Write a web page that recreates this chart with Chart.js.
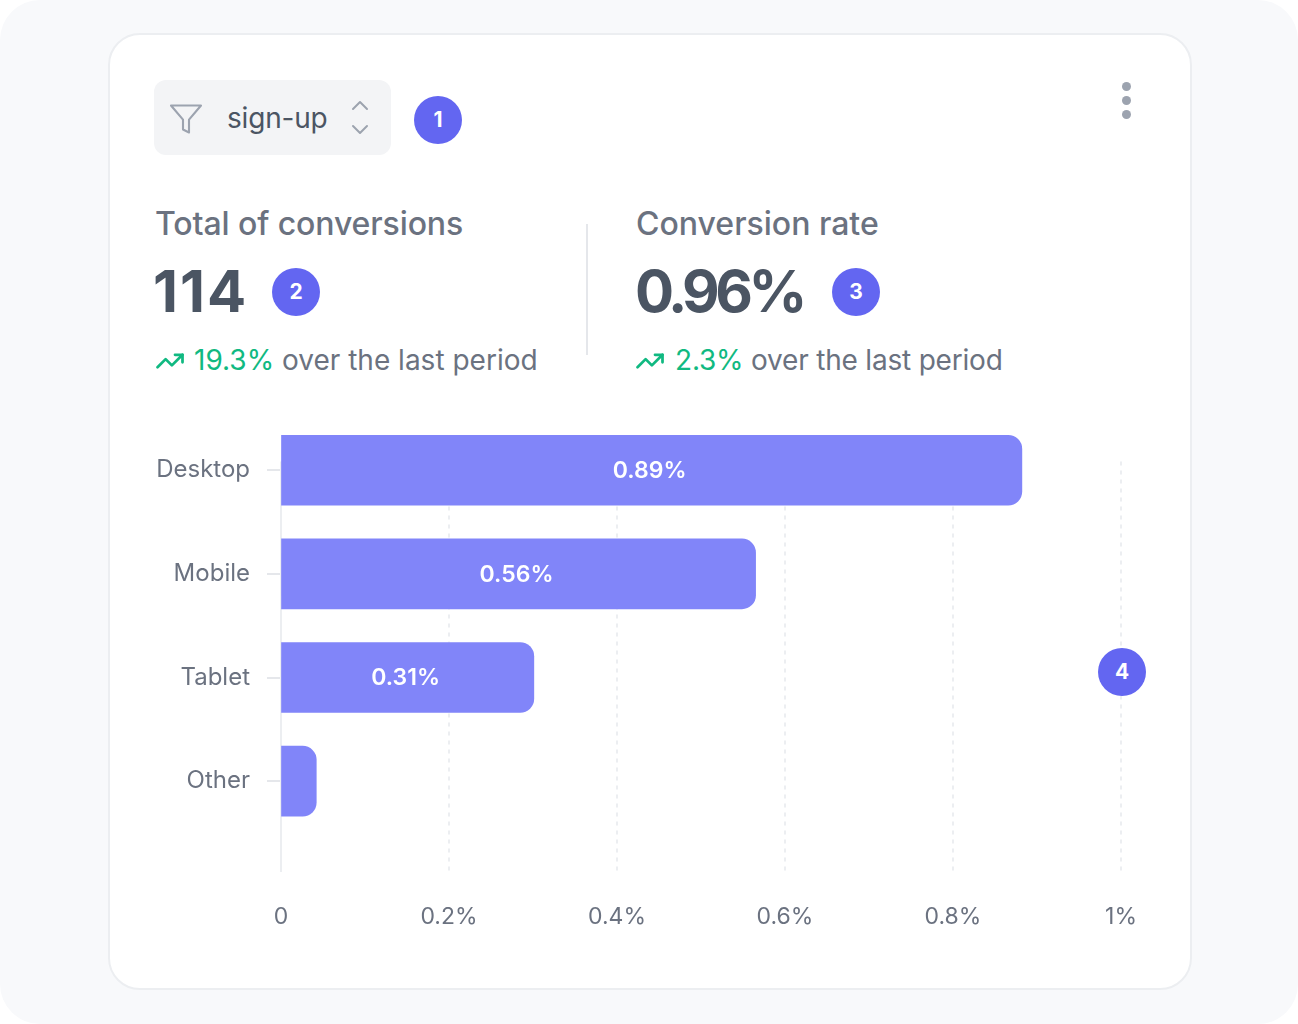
<!DOCTYPE html>
<html lang="en">
<head>
  <meta charset="UTF-8" />
  <title>Conversions by device</title>
  <script src="https://cdn.jsdelivr.net/npm/chart.js"></script>
  <style>
    html, body { margin: 0; padding: 0; background: #ffffff; }
    body { width: 1298px; height: 1024px; position: relative; overflow: hidden; font-family: Inter, "Noto Sans", sans-serif; }
    .page { position: absolute; left: 0; top: 0; width: 1298px; height: 1024px; background: #f8f9fb; border-radius: 40px; }
    .card { position: absolute; left: 108px; top: 33px; width: 1084px; height: 957px; box-sizing: border-box;
            background: #fff; border: 2px solid #eceef1; border-radius: 32px; }
    .abs { position: absolute; white-space: nowrap; line-height: 1.2; }
    .filter { position: absolute; left: 154px; top: 80px; width: 237px; height: 75px; background: #f3f4f6; border-radius: 12px; }
    .badge { position: absolute; width: 48px; height: 48px; border-radius: 50%; background: #6366f1; color: #fff;
             font-weight: 700; font-size: 21px; line-height: 48px; text-align: center; }
    .title { font-size: 32px; color: #6b7280; font-weight: 500; }
    .big { font-size: 58px; color: #4b5563; font-weight: 700; }
    .trend { font-size: 28px; color: #6b7280; }
    .trend b { color: #10b981; font-weight: 400; }
    .dot { position: absolute; width: 9px; height: 9px; border-radius: 50%; background: #9ca3af; }
    #chartBox { position: absolute; left: 140px; top: 387px; width: 1020px; height: 563px; }
  </style>
</head>
<body>
  <div class="page"></div>
  <div class="card"></div>

  <!-- filtro -->
  <div class="filter"></div>
  <svg class="abs" style="left:168px;top:101px" width="36" height="36" viewBox="0 0 24 24" fill="none" stroke="#9ca3af" stroke-width="1.4" stroke-linejoin="round">
    <polygon points="22 3 2 3 10 12.46 10 19 14 21 14 12.46 22 3"></polygon>
  </svg>
  <div class="abs" style="left:227px;top:102px;font-size:28px;color:#4b5563;letter-spacing:-0.2px;">sign-up</div>
  <svg class="abs" style="left:350px;top:98px" width="20" height="40" viewBox="0 0 20 40" fill="none" stroke="#9ca3af" stroke-width="2" stroke-linecap="round" stroke-linejoin="round">
    <path d="M3 11 L10 4 L17 11"></path>
    <path d="M3 28 L10 35 L17 28"></path>
  </svg>
  <div class="badge" style="left:414px;top:96px">1</div>

  <div class="dot" style="left:1122px;top:82px"></div>
  <div class="dot" style="left:1122px;top:96px"></div>
  <div class="dot" style="left:1122px;top:110px"></div>

  <!-- indicadores -->
  <div class="abs title" style="left:155px;top:205px;letter-spacing:-0.1px">Total of conversions</div>
  <div class="abs big" style="left:153px;top:257px;letter-spacing:2px">114</div>
  <div class="badge" style="left:272px;top:268px">2</div>
  <svg class="abs" style="left:155px;top:346px" width="30" height="30" viewBox="0 0 24 24" fill="none" stroke="#10b981" stroke-width="2.2" stroke-linecap="round" stroke-linejoin="round">
    <polyline points="2 17 8.5 10.5 13.5 15.5 22 7"></polyline>
    <polyline points="16 7 22 7 22 13"></polyline>
  </svg>
  <div class="abs trend" style="left:194px;top:344px"><b>19.3%</b> over the last period</div>

  <div class="abs" style="left:586px;top:224px;width:2px;height:131px;background:#e5e7eb"></div>

  <div class="abs title" style="left:636px;top:205px">Conversion rate</div>
  <div class="abs big" style="left:635px;top:257px;letter-spacing:-4.5px">0.96%</div>
  <div class="badge" style="left:832px;top:268px">3</div>
  <svg class="abs" style="left:635px;top:346px" width="30" height="30" viewBox="0 0 24 24" fill="none" stroke="#10b981" stroke-width="2.2" stroke-linecap="round" stroke-linejoin="round">
    <polyline points="2 17 8.5 10.5 13.5 15.5 22 7"></polyline>
    <polyline points="16 7 22 7 22 13"></polyline>
  </svg>
  <div class="abs trend" style="left:675px;top:344px;letter-spacing:-0.2px"><b>2.3%</b> over the last period</div>

  <!-- gráfico -->
  <div id="chartBox"><canvas id="deviceChart"></canvas></div>
  <div class="badge" style="left:1098px;top:648px">4</div>

  <script>
    const categories = ['Desktop', 'Mobile', 'Tablet', 'Other'];
    const conversionRates = [0.882, 0.565, 0.301, 0.042];
    const barLabels = ['0.89%', '0.56%', '0.31%', ''];
    const xTickLabels = ['0', '0.2%', '0.4%', '0.6%', '0.8%', '1%'];

    const cinza = '#6b7280';
    const linha = '#eceef1';

    // linhas verticais da grade (tracejadas) e eixo em 0
    const gradePlugin = {
      id: 'grade',
      beforeDatasetsDraw(chart) {
        const { ctx, chartArea, scales } = chart;
        const top = chartArea.top + 43;
        const bottom = chartArea.bottom + 39;
        ctx.save();
        ctx.lineWidth = 2;
        ctx.strokeStyle = linha;
        scales.x.ticks.forEach(t => {
          const px = Math.round(scales.x.getPixelForValue(t.value));
          ctx.setLineDash(t.value === 0 ? [] : [4, 5]);
          ctx.beginPath();
          ctx.moveTo(px, top);
          ctx.lineTo(px, bottom);
          ctx.stroke();
        });
        ctx.restore();
      }
    };

    // rótulos dentro das barras
    const rotuloPlugin = {
      id: 'rotulos',
      afterDatasetsDraw(chart) {
        const { ctx } = chart;
        const meta = chart.getDatasetMeta(0);
        ctx.save();
        ctx.fillStyle = '#ffffff';
        ctx.font = '600 23px Inter, sans-serif';
        ctx.textAlign = 'center';
        ctx.textBaseline = 'middle';
        meta.data.forEach((bar, i) => {
          const { x, y, base } = bar.getProps(['x', 'y', 'base'], true);
          if (barLabels[i] && x - base > 60) ctx.fillText(barLabels[i], (x + base) / 2 - 2, y + 1);
        });
        ctx.restore();
      }
    };

    new Chart(document.getElementById('deviceChart'), {
      type: 'bar',
      data: {
        labels: categories,
        datasets: [{
          data: conversionRates,
          backgroundColor: '#8185f9',
          borderRadius: 14,
          borderSkipped: 'start',
          barThickness: 70
        }]
      },
      options: {
        indexAxis: 'y',
        responsive: true,
        maintainAspectRatio: false,
        animation: false,
        layout: { padding: { top: 0, right: 39, left: 0, bottom: 0 } },
        plugins: { legend: { display: false }, tooltip: { enabled: false } },
        scales: {
          x: {
            min: 0,
            max: 1,
            ticks: {
              stepSize: 0.2,
              padding: 0,
              color: cinza,
              font: { family: 'Inter', size: 23 },
              callback: (v, i) => xTickLabels[i]
            },
            grid: { display: true, drawOnChartArea: false, drawTicks: true, tickLength: 70, color: 'rgba(0,0,0,0)' },
            border: { display: false },
            afterFit: s => { s.height = 117; }
          },
          y: {
            ticks: {
              padding: 17,
              color: cinza,
              font: { family: 'Inter', size: 24 }
            },
            grid: { display: true, offset: false, drawOnChartArea: false, drawTicks: true, tickLength: 14, color: '#e5e7eb', lineWidth: 2 },
            border: { display: false },
            afterFit: s => { s.width = 141; }
          }
        }
      },
      plugins: [gradePlugin, rotuloPlugin]
    });
  </script>
</body>
</html>
